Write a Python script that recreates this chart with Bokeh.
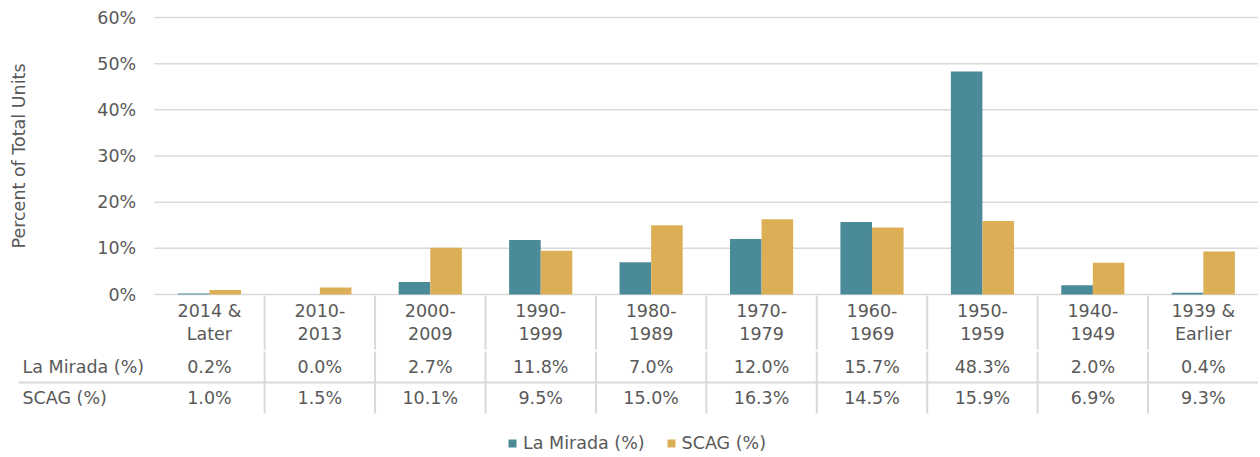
import math
from bokeh.plotting import figure
from bokeh.models import (ColumnDataSource, Range1d, FixedTicker,
                          PrintfTickFormatter, Legend, LegendItem)
from bokeh.core.properties import value
from bokeh.embed import file_html
from bokeh.resources import INLINE

# ---- data ----
categories = ["2014 & Later", "2010-2013", "2000-2009", "1990-1999", "1980-1989",
              "1970-1979", "1960-1969", "1950-1959", "1940-1949", "1939 & Earlier"]
cat_line1 = ["2014 &", "2010-", "2000-", "1990-", "1980-", "1970-", "1960-", "1950-", "1940-", "1939 &"]
cat_line2 = ["Later", "2013", "2009", "1999", "1989", "1979", "1969", "1959", "1949", "Earlier"]
la_mirada = [0.2, 0.0, 2.7, 11.8, 7.0, 12.0, 15.7, 48.3, 2.0, 0.4]
scag = [1.0, 1.5, 10.1, 9.5, 15.0, 16.3, 14.5, 15.9, 6.9, 9.3]
series_names = ["La Mirada (%)", "SCAG (%)"]
y_ticks = [0, 10, 20, 30, 40, 50, 60]
y_title = "Percent of Total Units"

TEAL = "#4A8A99"
GOLD = "#DCAF57"
TXT = "#595959"
GRID = "#D9D9D9"
FONT = value("DejaVu Sans")
FS = "17.5px"

# ---- layout constants (pixels) ----
W, H = 1258, 455
X0_PX = 153.7           # pixel of category axis start
Y0_PX, Y60_PX = 294.0, 17.0
n = len(categories)
unit = (W - X0_PX) / n
ppu = (Y0_PX - Y60_PX) / 60.0
x_range = Range1d(-X0_PX / unit, n)
y_range = Range1d(-(H - Y0_PX) / ppu, Y0_PX / ppu)

p = figure(width=W, height=H, x_range=x_range, y_range=y_range,
           x_axis_location=None, output_backend="svg", toolbar_location=None,
           min_border_left=0, min_border_right=0, min_border_top=0, min_border_bottom=0)
p.outline_line_color = None
p.grid.visible = False
p.extra_x_ranges = {"px": Range1d(0, W)}
p.extra_y_ranges = {"table": Range1d(H, 0)}

centers = [i + 0.5 for i in range(n)]

# gridlines (only across the chart area)
p.segment(x0=[0] * len(y_ticks), x1=[n] * len(y_ticks), y0=y_ticks, y1=y_ticks,
          line_color=GRID, line_width=1.5)

# bars
bw = 0.286
src = ColumnDataSource(dict(
    xl=[c - bw / 2 for c in centers], xs=[c + bw / 2 for c in centers],
    lm=la_mirada, sc=scag))
r_lm = p.vbar(x="xl", top="lm", width=bw, source=src, fill_color=TEAL, line_color=None)
r_sc = p.vbar(x="xs", top="sc", width=bw, source=src, fill_color=GOLD, line_color=None)

# y axis at x = 0
ya = p.yaxis[0]
ya.fixed_location = 0
ya.ticker = FixedTicker(ticks=y_ticks)
ya.formatter = PrintfTickFormatter(format="%d%%")
ya.axis_line_color = None
ya.major_tick_line_color = None
ya.minor_tick_line_color = None
ya.major_tick_out = 0
ya.major_tick_in = 0
ya.major_label_standoff = 18
ya.major_label_text_font = "DejaVu Sans"
ya.major_label_text_font_size = FS
ya.major_label_text_color = TXT

# y axis title
p.text(x=[18], y=[(y_ticks[0] + y_ticks[-1]) / 2], text=[y_title], angle=math.pi / 2,
       x_range_name="px", text_align="center", text_baseline="middle",
       text_font=FONT, text_font_size=FS, text_color=TXT)

# ---- data table ----
tsrc = ColumnDataSource(dict(
    x=centers, l1=cat_line1, l2=cat_line2,
    lm=[f"{v:.1f}%" for v in la_mirada], sc=[f"{v:.1f}%" for v in scag]))
for col, yy in (("l1", 310), ("l2", 333), ("lm", 366), ("sc", 397)):
    p.text(x="x", y=yy, text=col, source=tsrc, y_range_name="table",
           text_align="center", text_baseline="middle",
           text_font=FONT, text_font_size=FS, text_color=TXT)

p.text(x=[22, 22], y=[366, 397], text=series_names, x_range_name="px", y_range_name="table",
       text_align="left", text_baseline="middle",
       text_font=FONT, text_font_size=FS, text_color=TXT)

p.segment(x0=[18], x1=[W], y0=[382], y1=[382], x_range_name="px", y_range_name="table",
          line_color=GRID, line_width=2)
div_x = list(range(1, n))
p.segment(x0=div_x, x1=div_x, y0=[295] * len(div_x), y1=[349] * len(div_x),
          y_range_name="table", line_color=GRID, line_width=2)
p.segment(x0=div_x, x1=div_x, y0=[351] * len(div_x), y1=[413] * len(div_x),
          y_range_name="table", line_color=GRID, line_width=2)

# legend
legend = Legend(items=[LegendItem(label=series_names[0], renderers=[r_lm]),
                       LegendItem(label=series_names[1], renderers=[r_sc])],
                orientation="horizontal", location=(507, 2),
                glyph_width=10, glyph_height=10, label_standoff=6, spacing=21,
                padding=0, margin=0, border_line_color=None,
                background_fill_alpha=0,
                label_text_font="DejaVu Sans", label_text_font_size=FS,
                label_text_color=TXT)
p.add_layout(legend)

open("out.html", "w").write(file_html(p, INLINE))
